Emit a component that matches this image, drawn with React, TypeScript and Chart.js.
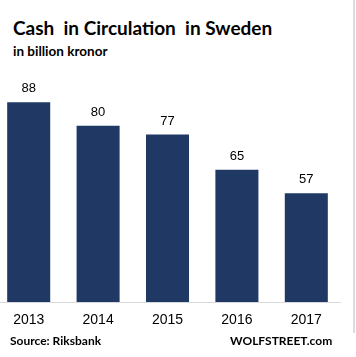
import React, { useEffect, useRef } from "react";
import { Chart, registerables } from "chart.js";

Chart.register(...registerables);

const categories = ["2013", "2014", "2015", "2016", "2017"];
const cashValues = [88, 80, 77, 65, 57];

const BAR_COLOR = "#203864";

const valueLabels = {
  id: "valueLabels",
  afterDatasetsDraw(chart: any) {
    const ctx = chart.ctx;
    const meta = chart.getDatasetMeta(0);
    ctx.save();
    ctx.font = "13px 'Liberation Sans', Arial, sans-serif";
    ctx.fillStyle = "#000";
    ctx.textAlign = "center";
    ctx.textBaseline = "alphabetic";
    meta.data.forEach((bar: any, i: number) => {
      ctx.fillText(String(cashValues[i]), bar.x, bar.y - 10);
    });
    ctx.restore();
  },
};

export default function App() {
  const ref = useRef<HTMLCanvasElement | null>(null);
  useEffect(() => {
    if (!ref.current) return;
    const chart = new Chart(ref.current, {
      type: "bar",
      data: {
        labels: categories,
        datasets: [
          {
            data: cashValues,
            backgroundColor: BAR_COLOR,
            borderWidth: 0,
            categoryPercentage: 0.62,
            barPercentage: 1,
          },
        ],
      },
      options: {
        animation: false,
        responsive: false,
        maintainAspectRatio: false,
        layout: { padding: { top: 67, left: 0, right: 0, bottom: 0 } },
        plugins: {
          legend: { display: false },
          tooltip: { enabled: false },
          title: { display: false },
        },
        scales: {
          x: {
            grid: { display: false, drawTicks: false },
            border: { display: true, color: "#d9d9d9", width: 1 },
            ticks: {
              color: "#000",
              font: { family: "'Liberation Sans', Arial, sans-serif", size: 14 },
              padding: 10,
              maxRotation: 0,
            },
            afterFit(scale: any) {
              scale.height = 33;
            },
          },
          y: {
            display: false,
            min: 20,
            max: 100,
          },
        },
      },
      plugins: [valueLabels],
    });
    return () => chart.destroy();
  }, []);

  const font = "Lato, 'Open Sans', sans-serif";
  return (
    <div
      style={{
        position: "absolute",
        left: 0,
        top: 0,
        width: 356,
        height: 357,
        background: "#fff",
        overflow: "hidden",
        fontFamily: font,
      }}
    >
      <div
        style={{
          position: "absolute",
          left: 13,
          top: 17,
          fontSize: 19,
          fontWeight: 700,
          color: "#000",
          whiteSpace: "pre",
          lineHeight: "22px",
        }}
      >
        {"Cash  in Circulation  in Sweden"}
      </div>
      <div
        style={{
          position: "absolute",
          left: 13,
          top: 43,
          fontSize: 13.5,
          fontWeight: 700,
          color: "#000",
          whiteSpace: "pre",
          lineHeight: "16px",
        }}
      >
        in billion kronor
      </div>
      <canvas
        ref={ref}
        width={347}
        height={335}
        style={{ position: "absolute", left: -6, top: 0, width: 347, height: 335 }}
      />
      <div
        style={{
          position: "absolute",
          left: 10,
          top: 334,
          fontSize: 12,
          fontWeight: 700,
          color: "#000",
          whiteSpace: "pre",
          lineHeight: "14px",
        }}
      >
        Source: Riksbank
      </div>
      <div
        style={{
          position: "absolute",
          left: 230,
          top: 334,
          fontSize: 12,
          fontWeight: 700,
          color: "#000",
          whiteSpace: "pre",
          lineHeight: "14px",
        }}
      >
        WOLFSTREET.com
      </div>
      <div
        style={{
          position: "absolute",
          left: 353,
          top: 0,
          width: 2,
          height: 333,
          background: "#dcdcdc",
        }}
      />
    </div>
  );
}
